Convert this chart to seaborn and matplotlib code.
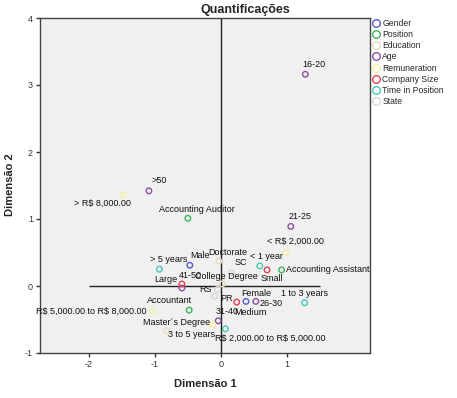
import pandas as pd
import seaborn as sns
import matplotlib.pyplot as plt
from matplotlib.lines import Line2D

# dados
labels = ['Male', 'Female',
          'Accounting Auditor', 'Accounting Assistant', 'Accountant',
          'Doctorate', 'College Degree', 'Master´s Degree',
          '16-20', '>50', '21-25', '41-50', '26-30', '31-40',
          '> R$ 8,000.00', '< R$ 2,000.00', 'R$ 5,000.00 to R$ 8,000.00', 'R$ 2,000.00 to R$ 5,000.00',
          'Small', 'Large', 'Medium',
          '< 1 year', '> 5 years', '1 to 3 years', '3 to 5 years',
          'SC', 'RS', 'PR']
groups = (['Gender'] * 2 + ['Position'] * 3 + ['Education'] * 3 + ['Age'] * 6
          + ['Remuneration'] * 4 + ['Company Size'] * 3 + ['Time in Position'] * 4 + ['State'] * 3)
dim1 = [-0.47, 0.38,
        -0.50, 0.92, -0.48,
        -0.03, 0.02, -0.82,
        1.28, -1.09, 1.06, -0.59, 0.53, -0.04,
        -1.48, 0.99, -1.03, -0.12,
        0.70, -0.59, 0.24,
        0.59, -0.93, 1.27, 0.07,
        0.16, -0.05, -0.09]
dim2 = [0.31, -0.23,
        1.01, 0.24, -0.36,
        0.37, 0.03, -0.67,
        3.16, 1.42, 0.89, -0.03, -0.23, -0.52,
        1.36, 0.50, -0.38, -0.58,
        0.24, 0.03, -0.24,
        0.30, 0.25, -0.25, -0.64,
        0.20, -0.05, -0.15]
group_order = ['Gender', 'Position', 'Education', 'Age', 'Remuneration',
               'Company Size', 'Time in Position', 'State']
group_colors = ['#5a5ac8', '#3cb45a', '#e6ddbe', '#8c50a0', '#f5f0a0',
                '#e6414f', '#46c8b4', '#d7d7d7']

# posição dos rótulos (pixels em relação ao ponto)
label_pos = {
    '16-20': (9, 10, 'center'), '>50': (10, 10, 'center'), '> R$ 8,000.00': (-21, -8, 'center'),
    'Accounting Auditor': (9, 9, 'center'), '21-25': (9, 10, 'center'), '< R$ 2,000.00': (9, 11, 'center'),
    '< 1 year': (7, 9, 'center'), 'SC': (9, 10, 'center'), 'Small': (5, -9, 'center'),
    'Accounting Assistant': (4, 0, 'left'), '> 5 years': (9, 10, 'center'), 'Male': (10, 10, 'center'),
    'Doctorate': (9, 9, 'center'), 'Large': (-5, 4, 'right'), '41-50': (8, 13, 'center'),
    'College Degree': (4, 7, 'center'), 'RS': (-6, 0, 'right'), 'PR': (5, -2, 'left'),
    'Female': (10, 8, 'center'), '26-30': (4, -2, 'left'), '1 to 3 years': (0, 9, 'center'),
    'Medium': (14, -10, 'center'), '31-40': (9, 9, 'center'), 'Accountant': (-20, 10, 'center'),
    'R$ 5,000.00 to R$ 8,000.00': (-6, 0, 'right'), 'Master´s Degree': (10, 8, 'center'),
    'R$ 2,000.00 to R$ 5,000.00': (2, -13, 'left'), '3 to 5 years': (-10, -6, 'right'),
}

df = pd.DataFrame({'label': labels, 'group': groups, 'dim1': dim1, 'dim2': dim2})
palette = dict(zip(group_order, group_colors))

sns.set_style('white')
plt.rcParams['font.family'] = ['Liberation Sans', 'DejaVu Sans']
plt.rcParams['axes.unicode_minus'] = False

fig = plt.figure(figsize=(4.57, 3.98), dpi=100)
ax = fig.add_axes([40 / 457, 1 - 353 / 398, 330 / 457, 335 / 398])
ax.set_facecolor('#f0f0f0')

sns.scatterplot(data=df, x='dim1', y='dim2', hue='group', hue_order=group_order,
                palette=palette, s=16, linewidth=1, legend=False, ax=ax, zorder=3)
pts = ax.collections[0]
fc = pts.get_facecolors()
pts.set_facecolors('none')
pts.set_edgecolors(fc)

ax.axvline(0, color='#222222', lw=1, zorder=2)
ax.hlines(0, -2, 1.5, color='#222222', lw=1, zorder=2)

for _, r in df.iterrows():
    dx, dy, ha = label_pos[r['label']]
    ax.annotate(r['label'], (r['dim1'], r['dim2']), xytext=(dx, dy), textcoords='offset pixels',
                ha=ha, va='center', fontsize=6.5, color='#111111', annotation_clip=False,
                zorder=4, parse_math=False)

ax.set_xlim(-2.74, 2.26)
ax.set_ylim(-1, 4)
ax.set_xticks([-2, -1, 0, 1])
ax.set_yticks([-1, 0, 1, 2, 3, 4])
ax.tick_params(axis='both', labelsize=6.5, length=3, width=1, direction='out', pad=2,
               left=True, bottom=True, colors='#333333')
for s in ax.spines.values():
    s.set_color('#444444')
    s.set_linewidth(1)
ax.set_xlabel('')
ax.set_ylabel('')

fig.text(245 / 457, 1 - 10 / 398, 'Quantificações', ha='center', va='center',
         fontsize=9, fontweight='bold')
fig.text(205 / 457, 1 - 384 / 398, 'Dimensão 1', ha='center', va='center',
         fontsize=8, fontweight='bold')
fig.text(10 / 457, 1 - 185 / 398, 'Dimensão 2', ha='center', va='center',
         fontsize=8, fontweight='bold', rotation=90)

handles = [Line2D([], [], marker='o', ls='', markersize=5.5, markerfacecolor='none',
                  markeredgecolor=c, markeredgewidth=1) for c in group_colors]
fig.legend(handles, group_order, loc='upper left', bbox_to_anchor=(373 / 457, 1 - 19 / 398),
           frameon=False, fontsize=6.2, handletextpad=0.3, labelspacing=0.25,
           borderpad=0, handlelength=0.8, borderaxespad=0)

fig.savefig('out.png', dpi=100)
